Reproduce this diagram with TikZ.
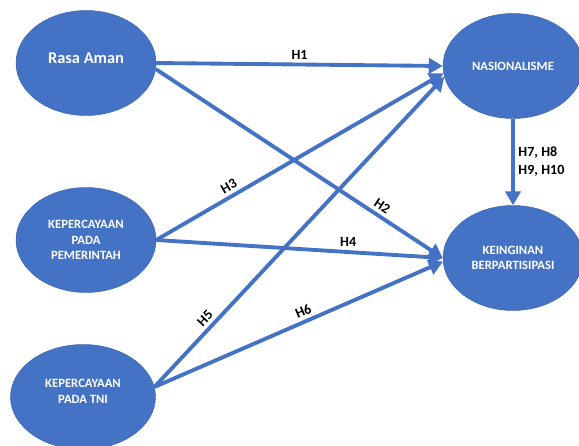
\documentclass[tikz,border=0pt]{standalone}
\usepackage{fontspec}
\setmainfont{Carlito}
\usepackage{xcolor}
\usepackage{tikz}
\usetikzlibrary{arrows.meta,shapes.geometric}

\definecolor{varblue}{HTML}{4472C4}
\definecolor{varedge}{HTML}{3A65B0}

\begin{document}
\begin{tikzpicture}[x=0.03cm, y=-0.03cm,
		var/.style = {ellipse, draw=varedge, fill=varblue, text=white, font=\bfseries\fontsize{10.8}{13.4}\selectfont, align=center, minimum width=4.2cm, minimum height=3.15cm, inner sep=0pt},
		link/.style = {draw=varblue, line width=3.3pt, -{Triangle[length=0.42cm, width=0.46cm]}},
		hyp/.style = {font=\bfseries\fontsize{12}{15.5}\selectfont, text=black, inner sep=3pt}]
		\useasboundingbox (0,0) rectangle (579,446);
		
		\node[var, font=\bfseries\fontsize{14}{16}\selectfont] (rasa) at (86,63) {Rasa Aman\\[-7.5pt]};
		\node[var] (pem) at (86,240) {KEPERCAYAAN\\PADA\\PEMERINTAH};
		\node[var, minimum width=4.35cm] (tni) at (83,397) {KEPERCAYAAN\\PADA TNI\\[-4pt]};
		\node[var] (nas) at (513,66) {NASIONALISME};
		\node[var] (ingin) at (513,258) {KEINGINAN\\BERPARTISIPASI};
		
		\draw[link] (rasa.east) -- node[hyp, above, pos=0.5] {H1} (nas.west);
		\draw[link] (rasa.-5) -- node[hyp, above, sloped, pos=0.77] {H2} (ingin.west);
		\draw[link] (pem.east) -- node[hyp, above, sloped, pos=0.27] {H3} (nas.186);
		\draw[link] (pem.east) -- node[hyp, above, pos=0.67] {H4} (ingin.west);
		\draw[link] (tni.8) -- node[hyp, above, sloped, pos=0.2] {H5} (nas.189);
		\draw[link] (tni.8) -- node[hyp, above, sloped, pos=0.53] {H6} (ingin.183);
		\draw[link] (nas.south) -- node[hyp, right, align=left] {H7, H8\\H9, H10} (ingin.north);
	\end{tikzpicture}
\end{document}
